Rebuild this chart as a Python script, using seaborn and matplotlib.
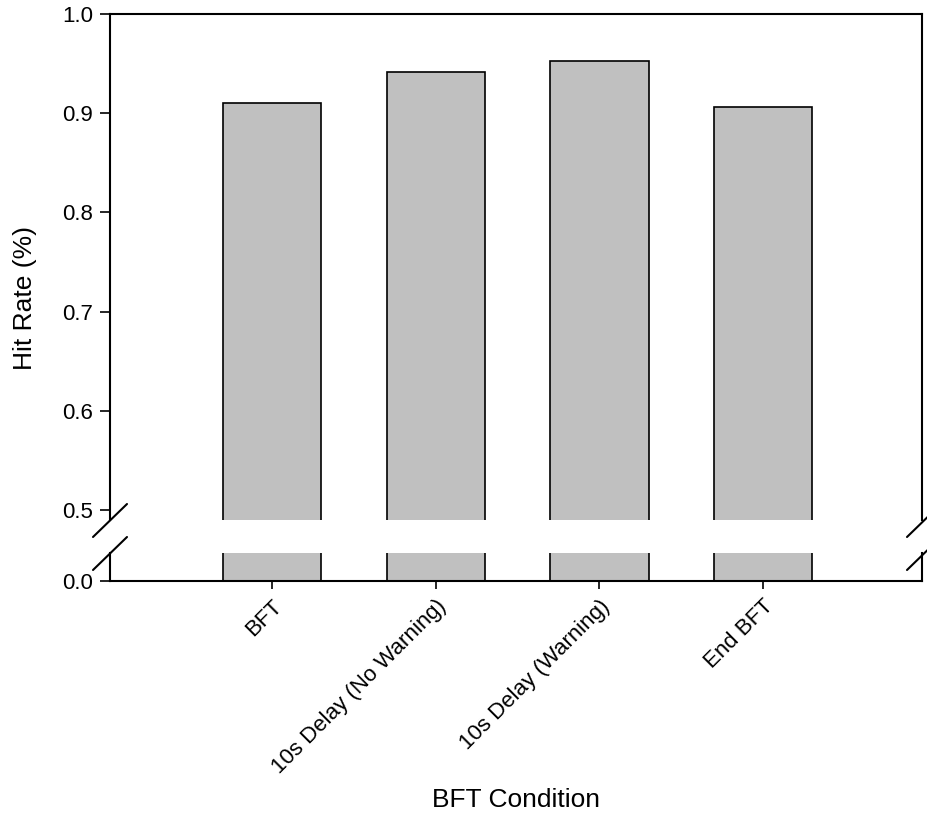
import matplotlib
matplotlib.use("Agg")
import matplotlib.pyplot as plt
import seaborn as sns

# ==========================================================
# DATA
# ==========================================================

conditions = ["BFT", "10s Delay (No Warning)", "10s Delay (Warning)", "End BFT"]
hit_rate = [0.910, 0.942, 0.953, 0.906]

top_ticks = [0.5, 0.6, 0.7, 0.8, 0.9, 1.0]
bottom_ticks = [0.0]

# ==========================================================
# STYLE
# ==========================================================

sns.set_style("ticks")
plt.rcParams["font.family"] = ["Liberation Sans", "DejaVu Sans"]
plt.rcParams["text.color"] = "black"
plt.rcParams["axes.labelcolor"] = "black"
plt.rcParams["axes.edgecolor"] = "black"
plt.rcParams["xtick.color"] = "black"
plt.rcParams["ytick.color"] = "black"

W, H = 927, 838
fig = plt.figure(figsize=(W / 100, H / 100), dpi=100)


def fx(px):
    return px / W


def fy(py):
    return 1 - py / H


left, right = 110, 922
ax_top = fig.add_axes([fx(left), fy(520), fx(right - left), fy(14) - fy(520)])
ax_bot = fig.add_axes([fx(left), fy(581), fx(right - left), fy(553) - fy(581)])

bar_color = "#c0c0c0"

for ax in (ax_top, ax_bot):
    sns.barplot(
        x=conditions,
        y=hit_rate,
        color=bar_color,
        edgecolor="black",
        linewidth=1.2,
        saturation=1,
        width=0.6,
        ax=ax,
    )
    ax.set_xlim(-0.99, 3.97)
    for s in ax.spines.values():
        s.set_linewidth(1.5)
        s.set_color("black")
        s.set_visible(True)
    ax.set_xlabel("")
    ax.set_ylabel("")

# top panel
ax_top.set_ylim(0.49, 1.0)
ax_top.set_yticks(top_ticks)
ax_top.set_yticklabels([f"{t:.1f}" for t in top_ticks])
ax_top.spines["bottom"].set_visible(False)
ax_top.tick_params(axis="x", bottom=False, labelbottom=False)
ax_top.tick_params(axis="y", length=7, width=1.2, labelsize=16, pad=5,
                   colors="black")

# bottom panel
ax_bot.set_ylim(0.0, 0.028)
ax_bot.set_yticks(bottom_ticks)
ax_bot.set_yticklabels([f"{t:.1f}" for t in bottom_ticks])
ax_bot.spines["top"].set_visible(False)
ax_bot.tick_params(axis="y", length=7, width=1.2, labelsize=16, pad=5,
                   colors="black")
ax_bot.tick_params(axis="x", length=5.5, width=1.2, labelsize=16, pad=5,
                   colors="black")
for lab in ax_bot.get_xticklabels():
    lab.set_rotation(45)
    lab.set_ha("right")
    lab.set_rotation_mode("anchor")

# break marks
for x0 in (93, 907):
    for y0 in (537, 570):
        fig.add_artist(plt.Line2D([fx(x0), fx(x0 + 34)], [fy(y0), fy(y0 - 33)],
                                  transform=fig.transFigure, color="black",
                                  linewidth=1.5, clip_on=False))

# axis labels
fig.text(fx(516), fy(800), "BFT Condition", ha="center", va="center",
         fontsize=19, color="black")
fig.text(fx(25), fy(298), "Hit Rate (%)", ha="center", va="center",
         rotation=90, fontsize=19, color="black")

fig.savefig("out.png", dpi=100)
plt.close()
